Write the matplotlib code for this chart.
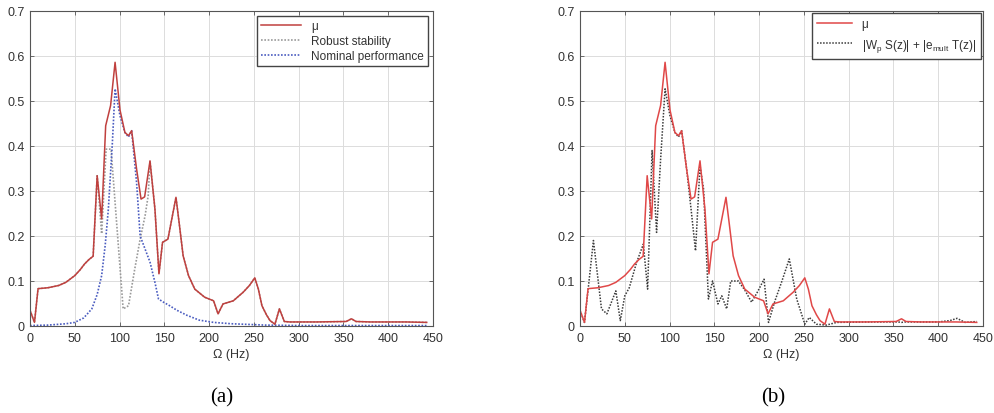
import numpy as np
import matplotlib.pyplot as plt

# structured singular value mu (same curve in both panels)
mu_hz = [0, 5, 9, 20, 32, 40, 50, 56, 61, 66, 70.5, 75, 80, 84.5, 90, 95, 100.5,
         106, 110, 113.5, 119, 124, 128, 134, 139.5, 144, 148, 154, 163, 166.5,
         171, 177, 184, 195, 205, 210, 215.5, 227, 238, 245, 251, 255, 259, 264,
         268, 273.5, 278.5, 284, 290, 320, 353, 359, 364, 380, 420, 443]
mu_val = [0.035, 0.008, 0.083, 0.085, 0.09, 0.097, 0.112, 0.125, 0.138, 0.148,
          0.155, 0.334, 0.238, 0.445, 0.49, 0.586, 0.48, 0.43, 0.423, 0.434,
          0.349, 0.282, 0.287, 0.367, 0.26, 0.116, 0.186, 0.193, 0.286, 0.23,
          0.156, 0.112, 0.082, 0.064, 0.056, 0.027, 0.049, 0.056, 0.075, 0.09,
          0.107, 0.082, 0.045, 0.025, 0.012, 0.004, 0.038, 0.01, 0.009, 0.009,
          0.01, 0.016, 0.01, 0.009, 0.009, 0.008]

# robust stability bound
rs_hz = [0, 5, 9, 20, 32, 40, 50, 56, 61, 66, 70.5, 75, 80, 85, 90.5, 104, 110,
         117, 123, 128.5, 132, 134, 139.5, 144, 148, 154, 163, 166.5, 171, 177,
         184, 195, 205, 210, 215.5, 227, 238, 245, 251, 255, 259, 264, 268,
         273.5, 278.5, 284, 290, 320, 353, 359, 364, 380, 420, 443]
rs_val = [0.035, 0.008, 0.083, 0.085, 0.09, 0.097, 0.112, 0.125, 0.138, 0.148,
          0.155, 0.334, 0.205, 0.393, 0.393, 0.038, 0.045, 0.127, 0.193, 0.245,
          0.29, 0.367, 0.26, 0.116, 0.186, 0.193, 0.286, 0.23, 0.156, 0.112,
          0.082, 0.064, 0.056, 0.027, 0.049, 0.056, 0.075, 0.09, 0.107, 0.082,
          0.045, 0.025, 0.012, 0.004, 0.038, 0.01, 0.009, 0.009, 0.01, 0.016,
          0.01, 0.009, 0.009, 0.008]

# nominal performance
np_hz = [0, 20, 40, 50, 60, 69, 75, 80, 84, 87.5, 92, 95, 100.5, 106, 110, 113.5,
         119, 123, 128.5, 134, 139.5, 143.5, 149, 156, 164, 175, 189, 205, 225,
         263, 300, 350, 443]
np_val = [0.001, 0.002, 0.005, 0.008, 0.018, 0.038, 0.07, 0.112, 0.18, 0.26,
          0.408, 0.527, 0.467, 0.43, 0.42, 0.434, 0.319, 0.2, 0.171, 0.142,
          0.097, 0.06, 0.053, 0.045, 0.035, 0.024, 0.013, 0.008, 0.005, 0.002,
          0.001, 0.001, 0.001]

# |Wp S(z)| + |e_mult T(z)|
w_hz = [0, 5, 9, 15, 24, 30, 40, 45, 50, 55, 63, 70.7, 75.5, 80.5, 85.5, 90, 95,
        100.5, 106, 110, 113.5, 119, 124, 129, 134, 138, 143.4, 148, 154, 158.3,
        163.8, 168.3, 176.8, 184, 191.6, 198, 205.5, 210.5, 217.7, 225, 233.7,
        242, 251, 256, 264, 275, 286.5, 320, 355, 359, 363, 400, 413, 421, 430,
        443]
w_val = [0.035, 0.008, 0.08, 0.19, 0.038, 0.027, 0.078, 0.012, 0.067, 0.085,
         0.14, 0.182, 0.082, 0.39, 0.208, 0.37, 0.527, 0.467, 0.43, 0.42, 0.434,
         0.35, 0.26, 0.167, 0.356, 0.304, 0.06, 0.1, 0.049, 0.067, 0.038, 0.1,
         0.1, 0.08, 0.053, 0.075, 0.104, 0.008, 0.056, 0.097, 0.149, 0.06, 0.004,
         0.019, 0.004, 0.002, 0.008, 0.009, 0.009, 0.008, 0.009, 0.009, 0.012,
         0.017, 0.008, 0.01]

xticks = np.arange(0, 451, 50)
yticks = np.arange(0, 0.71, 0.1)
ylabels = ['0', '0.1', '0.2', '0.3', '0.4', '0.5', '0.6', '0.7']

plt.rcParams['font.family'] = ['Liberation Sans', 'DejaVu Sans']
plt.rcParams['mathtext.fontset'] = 'custom'
plt.rcParams['mathtext.rm'] = 'Liberation Sans'
plt.rcParams['mathtext.it'] = 'Liberation Sans'
txt = '#333333'
dots = (0, (1, 1))

fig = plt.figure(figsize=(9.94, 4.14), dpi=100)
axa = fig.add_axes([30/994, 87/414, 403/994, 315/414])
axb = fig.add_axes([580/994, 87/414, 403/994, 315/414])

# panel (a): mu with robust stability and nominal performance
axa.plot(rs_hz, rs_val, ls=dots, color='#9a9a9a', lw=1.2, label='Robust stability')
axa.plot(np_hz, np_val, ls=dots, color='#4a5cc0', lw=1.2, label='Nominal performance')
axa.plot(mu_hz, mu_val, ls='-', color='#c0403e', lw=1.1, label=u'\u03bc')

# panel (b): mu against the mixed-sensitivity bound
axb.plot(w_hz, w_val, ls=dots, color='#3a3a3a', lw=1.1,
         label=r'|W$_\mathregular{p}$ S(z)| + |e$_\mathregular{mult}$ T(z)|')
axb.plot(mu_hz, mu_val, ls='-', color='#e04848', lw=1.1, label=u'\u03bc')

for ax in (axa, axb):
    ax.set_xlim(0, 450)
    ax.set_ylim(0, 0.7)
    ax.set_xticks(xticks)
    ax.set_yticks(yticks)
    ax.set_yticklabels(ylabels)
    ax.grid(True, color='#dcdcdc', lw=0.7)
    ax.set_axisbelow(True)
    ax.tick_params(direction='in', length=3, width=0.6, top=True, right=True,
                   labelsize=9, colors='#555555', labelcolor=txt, pad=4)
    for s in ax.spines.values():
        s.set_color('#555555')
        s.set_linewidth(0.8)
    ax.set_xlabel(u'\u03a9 (Hz)', fontsize=9, color=txt, labelpad=3)

h, l = axa.get_legend_handles_labels()
order = [2, 0, 1]
axa.legend([h[i] for i in order], [l[i] for i in order], loc='upper right',
           fontsize=8.5, frameon=True, fancybox=False, edgecolor='#444444',
           framealpha=1, handlelength=3.4, borderpad=0.35, labelspacing=0.22,
           borderaxespad=0.45, labelcolor=txt)
h, l = axb.get_legend_handles_labels()
axb.legend([h[1], h[0]], [l[1], l[0]], loc='upper right',
           fontsize=8.5, frameon=True, fancybox=False, edgecolor='#444444',
           framealpha=1, handlelength=3.0, borderpad=0.45, labelspacing=0.55,
           borderaxespad=0.15, labelcolor=txt)

fig.text(222/994, 1 - 398/414, '(a)', ha='center', va='center', fontsize=15,
         family='Liberation Serif')
fig.text(773/994, 1 - 398/414, '(b)', ha='center', va='center', fontsize=15,
         family='Liberation Serif')

fig.savefig('out.png', dpi=100)
